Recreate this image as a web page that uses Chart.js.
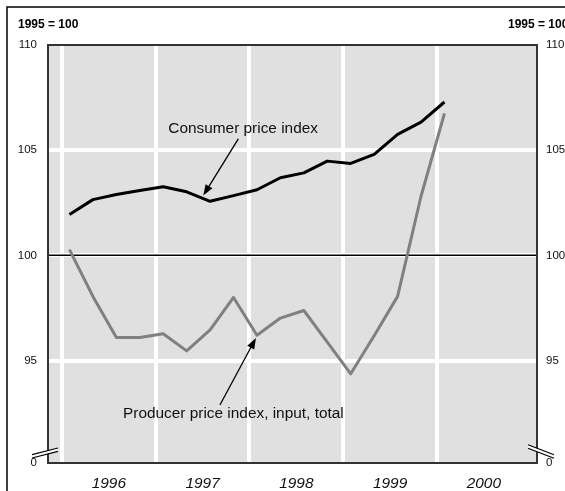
<!DOCTYPE html>
<html>
<head>
<meta charset="utf-8">
<script src="https://cdn.jsdelivr.net/npm/chart.js@4"></script>
<style>
  html, body { margin: 0; padding: 0; background: #fff; }
  #wrap { width: 565px; height: 491px; position: relative; }
</style>
</head>
<body>
<div id="wrap"><canvas id="chart"></canvas></div>
<script>
// quarterly series, 1995 = 100
const quarters = ['1996 Q1', '1996 Q2', '1996 Q3', '1996 Q4',
                  '1997 Q1', '1997 Q2', '1997 Q3', '1997 Q4',
                  '1998 Q1', '1998 Q2', '1998 Q3', '1998 Q4',
                  '1999 Q1', '1999 Q2', '1999 Q3', '1999 Q4',
                  '2000 Q1'];
const consumerPrices = [101.94, 102.65, 102.89, 103.08, 103.26, 103.02, 102.57, 102.84,
                        103.12, 103.69, 103.92, 104.48, 104.37, 104.80, 105.75, 106.33, 107.29];
const producerPrices = [100.27, 98.05, 96.10, 96.10, 96.27, 95.46, 96.46, 98.00,
                        96.20, 97.02, 97.38, 95.88, 94.37, 96.18, 98.05, 102.81, 106.75];
const years = [1996, 1997, 1998, 1999, 2000];
const yTicks = [95, 100, 105, 110];
const unitLabel = '1995 = 100';
const cpiLabel = 'Consumer price index';
const ppiLabel = 'Producer price index, input, total';

const X_MIN = 1995.851, X_MAX = 2001.067;
const Y_MIN = 90.13, Y_MAX = 110;
const FONT = "'Liberation Sans', Arial, sans-serif";

// place a quarterly value a month into its quarter
function quarterPos(label) {
  const [y, q] = label.split(' Q');
  return Number(y) + (Number(q) - 1) / 4 + 0.08;
}
const toPoints = values => values.map((v, i) => ({ x: quarterPos(quarters[i]), y: v }));

// year labels sit in the middle of each year band (last one clipped by the plot edge)
const yearLabelPos = years.map(y => (y + Math.min(y + 1, X_MAX)) / 2);

function arrow(ctx, x1, y1, x2, y2) {
  const a = Math.atan2(y2 - y1, x2 - x1);
  const len = 11, w = 4;
  ctx.beginPath();
  ctx.moveTo(x1, y1);
  ctx.lineTo(x2 - Math.cos(a) * len * 0.8, y2 - Math.sin(a) * len * 0.8);
  ctx.stroke();
  ctx.beginPath();
  ctx.moveTo(x2, y2);
  ctx.lineTo(x2 - Math.cos(a) * len - Math.sin(a) * w, y2 - Math.sin(a) * len + Math.cos(a) * w);
  ctx.lineTo(x2 - Math.cos(a) * len + Math.sin(a) * w, y2 - Math.sin(a) * len - Math.cos(a) * w);
  ctx.closePath();
  ctx.fill();
}

const decorations = {
  id: 'decorations',
  beforeDraw(chart) {
    const { ctx, chartArea: a } = chart;
    ctx.save();
    ctx.fillStyle = '#e0e0e0';
    ctx.fillRect(a.left, a.top, a.right - a.left, a.bottom - a.top);
    ctx.restore();
  },
  beforeDatasetsDraw(chart) {
    const { ctx, chartArea: a, scales } = chart;
    const y100 = scales.y.getPixelForValue(100);
    ctx.save();
    ctx.strokeStyle = '#000';
    ctx.lineWidth = 1.5;
    ctx.beginPath();
    ctx.moveTo(a.left, y100);
    ctx.lineTo(a.right, y100);
    ctx.stroke();
    ctx.restore();
  },
  afterDraw(chart) {
    const { ctx, chartArea: a, scales } = chart;
    const px = v => scales.x.getPixelForValue(v);
    const py = v => scales.y.getPixelForValue(v);
    ctx.save();

    // plot border
    ctx.strokeStyle = '#333';
    ctx.lineWidth = 2;
    ctx.strokeRect(a.left, a.top, a.right - a.left, a.bottom - a.top);

    // outer frame (runs off the right and bottom edges)
    ctx.strokeStyle = '#000';
    ctx.lineWidth = 1.5;
    ctx.beginPath();
    ctx.moveTo(7, chart.height);
    ctx.lineTo(7, 7);
    ctx.lineTo(chart.width, 7);
    ctx.stroke();

    // axis break marks
    const brk = (cx, cy, dx, dy) => {
      ctx.fillStyle = '#fff';
      ctx.beginPath();
      ctx.moveTo(cx - dx, cy - dy - 1.7);
      ctx.lineTo(cx + dx, cy + dy - 1.7);
      ctx.lineTo(cx + dx, cy + dy + 1.7);
      ctx.lineTo(cx - dx, cy - dy + 1.7);
      ctx.closePath();
      ctx.fill();
      ctx.strokeStyle = '#000';
      ctx.lineWidth = 1.2;
      [-1.7, 1.7].forEach(o => {
        ctx.beginPath();
        ctx.moveTo(cx - dx, cy - dy + o);
        ctx.lineTo(cx + dx, cy + dy + o);
        ctx.stroke();
      });
    };
    brk(a.left - 3, a.bottom - 10, 13, -3.3);
    brk(a.right + 4, a.bottom - 11.5, 13, 5);

    // unit labels
    ctx.fillStyle = '#000';
    ctx.font = 'bold 12px ' + FONT;
    ctx.textBaseline = 'middle';
    ctx.textAlign = 'left';
    ctx.fillText(unitLabel, 18, 25);
    ctx.fillText(unitLabel, a.right - 29, 25);

    // series annotations
    ctx.font = '15.4px ' + FONT;
    ctx.fillStyle = '#111';
    ctx.fillText(cpiLabel, px(1997.134), py(106.03));
    ctx.fillText(ppiLabel, px(1996.651), py(92.46));
    ctx.strokeStyle = '#000';
    ctx.fillStyle = '#000';
    ctx.lineWidth = 1.3;
    arrow(ctx, px(1997.881), py(105.54), px(1997.507), py(102.84));
    arrow(ctx, px(1997.685), py(92.89), px(1998.069), py(96.07));
    ctx.restore();
  }
};

new Chart(document.getElementById('chart'), {
  type: 'line',
  data: {
    datasets: [
      {
        label: cpiLabel,
        data: toPoints(consumerPrices),
        borderColor: '#000',
        borderWidth: 3,
        pointRadius: 0,
        tension: 0,
        borderJoinStyle: 'round',
        borderCapStyle: 'butt'
      },
      {
        label: ppiLabel,
        data: toPoints(producerPrices),
        borderColor: '#808080',
        borderWidth: 3,
        pointRadius: 0,
        tension: 0,
        borderJoinStyle: 'round'
      }
    ]
  },
  options: {
    responsive: true,
    maintainAspectRatio: false,
    animation: false,
    layout: { padding: { top: 45, left: 0, right: 0, bottom: 0 } },
    plugins: { legend: { display: false }, tooltip: { enabled: false } },
    scales: {
      x: {
        type: 'linear',
        min: X_MIN,
        max: X_MAX,
        afterBuildTicks(axis) {
          axis.ticks = [...years, ...yearLabelPos].sort((p, q) => p - q).map(v => ({ value: v }));
        },
        afterFit(axis) { axis.height = 28; },
        border: { display: false },
        grid: {
          drawTicks: false,
          lineWidth: 4,
          color: c => years.includes(c.tick && c.tick.value) ? '#fff' : 'rgba(0,0,0,0)'
        },
        ticks: {
          autoSkip: false,
          maxRotation: 0,
          padding: 11,
          color: '#111',
          font: { family: FONT, size: 15.4, style: 'italic' },
          callback: v => {
            const i = yearLabelPos.indexOf(v);
            return i >= 0 ? String(years[i]) : '';
          }
        }
      },
      y: {
        type: 'linear',
        position: 'left',
        min: Y_MIN,
        max: Y_MAX,
        afterBuildTicks(axis) {
          axis.ticks = [Y_MIN, ...yTicks].map(v => ({ value: v }));
        },
        afterFit(axis) { axis.width = 48; },
        border: { display: false },
        grid: {
          drawTicks: false,
          lineWidth: 4,
          color: c => (c.tick && c.tick.value > Y_MIN && c.tick.value < Y_MAX) ? '#fff' : 'rgba(0,0,0,0)'
        },
        ticks: {
          padding: 11,
          color: '#111',
          font: { family: FONT, size: 11.5 },
          callback: v => v === Y_MIN ? '0' : String(v)
        }
      },
      y2: {
        type: 'linear',
        position: 'right',
        min: Y_MIN,
        max: Y_MAX,
        afterBuildTicks(axis) {
          axis.ticks = [Y_MIN, ...yTicks].map(v => ({ value: v }));
        },
        afterFit(axis) { axis.width = 28; },
        border: { display: false },
        grid: { display: false, drawTicks: false },
        ticks: {
          padding: 9,
          color: '#111',
          font: { family: FONT, size: 11.5 },
          callback: v => v === Y_MIN ? '0' : String(v)
        }
      }
    }
  },
  plugins: [decorations]
});
</script>
</body>
</html>
